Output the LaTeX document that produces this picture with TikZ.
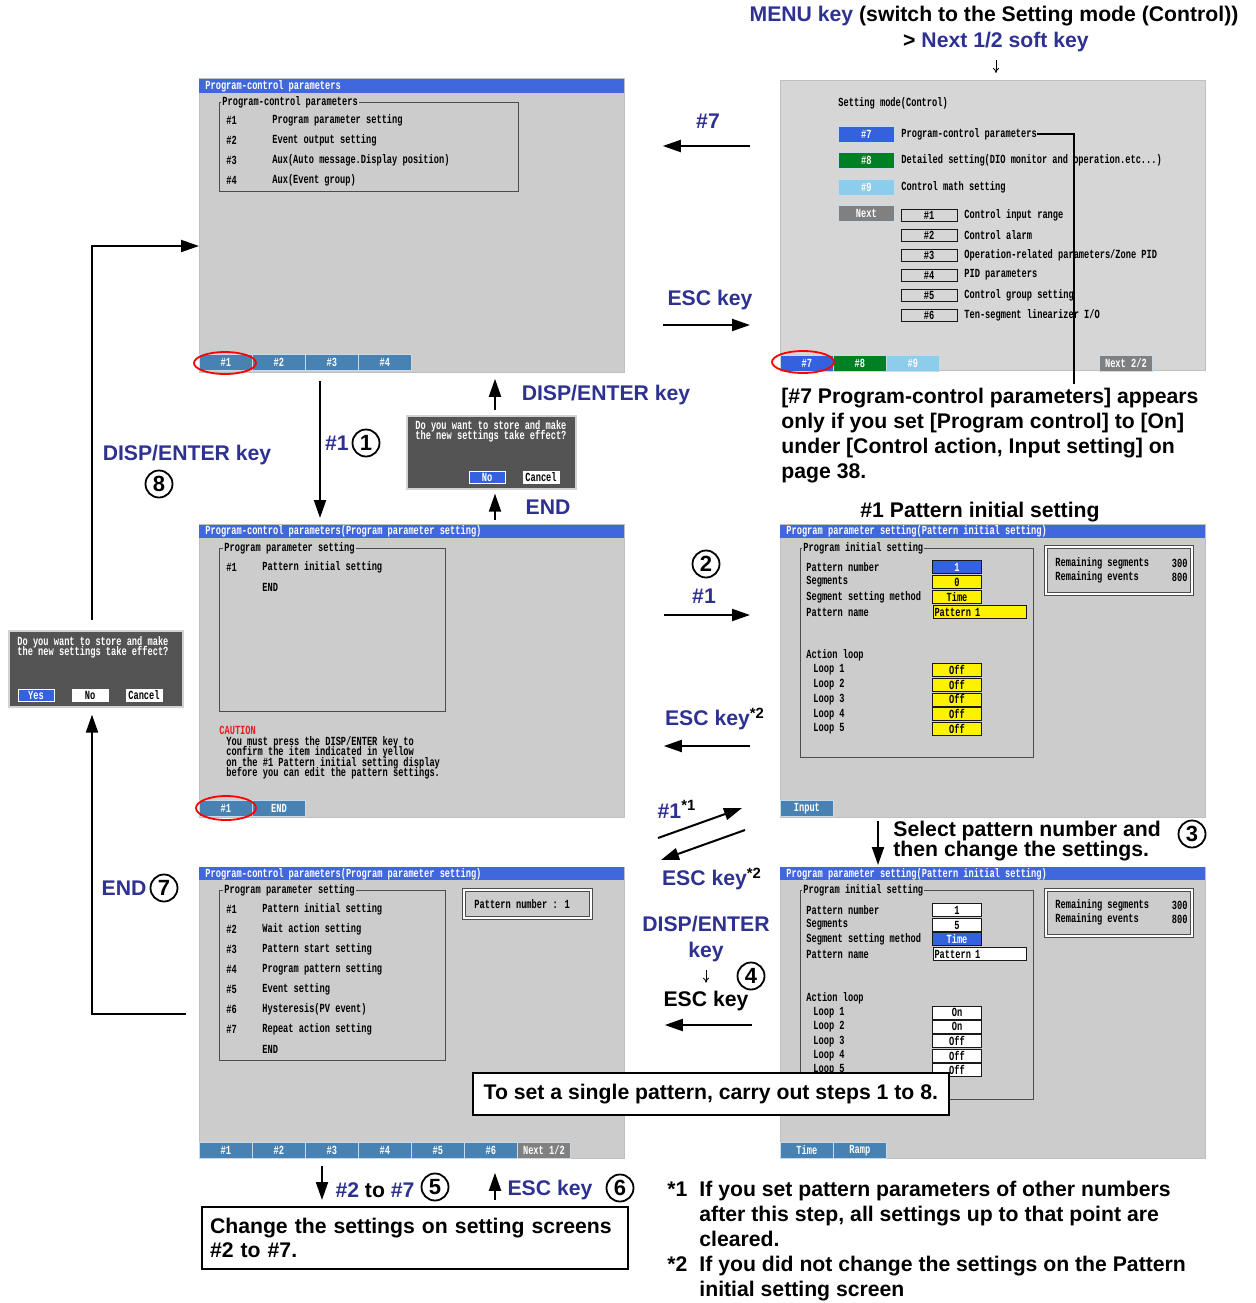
\documentclass[tikz,border=0pt]{standalone}
\usepackage{fontspec}
\setmainfont{Liberation Sans}
\newfontfamily\scrfont[FakeStretch=0.7]{Liberation Mono}
\usepackage{xcolor}
\usetikzlibrary{positioning,arrows.meta}

\definecolor{keyblue}{RGB}{46,49,146}
\definecolor{scrgray}{RGB}{204,204,204}
\definecolor{menugray}{RGB}{214,214,214}
\definecolor{titleblue}{RGB}{64,104,220}
\definecolor{softblue}{RGB}{72,130,178}
\definecolor{selblue}{RGB}{52,98,222}
\definecolor{okgreen}{RGB}{0,128,36}
\definecolor{skyblue}{RGB}{140,205,235}
\definecolor{nextgray}{RGB}{128,128,128}
\definecolor{dlggray}{RGB}{84,84,84}
\definecolor{cautred}{RGB}{230,30,30}

\newcommand{\scrsize}{\scrfont\bfseries\fontsize{6.2}{6.5}\selectfont}
\newcommand{\scrtight}{\scrfont\bfseries\fontsize{6.2}{5.2}\selectfont\lineskiplimit=-10pt}

\begin{document}
\begin{tikzpicture}[x=0.5pt, y=-0.5pt,
    screen/.style={rectangle, draw=gray!50, fill=scrgray, anchor=north west, minimum width=212.5pt, inner sep=0},
    scr/.style={anchor=west, inner sep=0, font=\scrsize},
    soft/.style={rectangle, draw=white!70!softblue, fill=softblue, text=white, anchor=north west, minimum width=26.5pt, minimum height=8pt, inner sep=0, font=\scrsize},
    field/.style={rectangle, draw=gray!20!black, fill=white, minimum width=24.5pt, minimum height=6.5pt, inner sep=0, font=\scrsize},
    frame/.style={draw=gray!60!black, line width=0.4pt},
    legend/.style={scr, fill=scrgray, inner xsep=0.5pt},
    dlg/.style={rectangle, draw=gray!35, line width=0.8pt, fill=dlggray, anchor=north west, inner sep=0},
    btn/.style={rectangle, draw=white, fill=white, minimum width=18pt, minimum height=6pt, inner sep=0, font=\scrsize},
    key/.style={text=keyblue, inner sep=1pt, font=\bfseries\fontsize{10.6}{12}\selectfont},
    note/.style={inner sep=0, align=left, font=\bfseries\fontsize{10.6}{12.5}\selectfont},
    num/.style={circle, draw, line width=0.9pt, minimum size=13.5pt, inner sep=0, font=\bfseries\fontsize{11}{11}\selectfont},
    arr/.style={line width=1pt, -{Triangle[length=9pt, width=6pt]}},
    small/.style={line width=0.4pt, -{To[length=2.5pt, width=3pt]}},
    ring/.style={draw=red, line width=0.9pt}]

    \useasboundingbox (0,0) rectangle (1255,1303);

    % Screens
    \node[screen, minimum height=147pt] (s1) at (199,78) {};
    \node[screen, fill=menugray, minimum height=145pt] (s2) at (780,80) {};
    \node[screen, minimum height=146.5pt] (s3) at (199,524) {};
    \node[screen, minimum height=146.5pt] (s4) at (780,524) {};
    \node[screen, minimum height=145.5pt] (s5) at (199,867) {};
    \node[screen, minimum height=145.5pt] (s6) at (780,867) {};

    % Program-control parameters
    \fill[titleblue] (199,79) rectangle (624,93);
    \node[scr, text=white] at (205,86) {Program-control parameters};
    \draw[frame] (219,102) rectangle (518,191);
    \node[legend] at (221,102) {Program-control parameters};
    \foreach \txt [count=\i] in {Program parameter setting, Event output setting,
        Aux(Auto message.Display position), Aux(Event group)} {
      \node[scr] at (226,100+20*\i) {\#\i};
      \node[scr] at (272,100+20*\i) {\txt};
    }
    \foreach \txt [count=\i from 0] in {\#1,\#2,\#3,\#4}
      \node[soft] at (199+53*\i,354) {\txt};
    \draw[ring] (225,363) ellipse [x radius=15.5pt, y radius=5.5pt];

    % Setting mode (Control)
    \node[scr] at (838,103) {Setting mode(Control)};
    \node[soft, fill=selblue, minimum width=28pt] (m7) at (838,126) {\#7};
    \node[soft, fill=okgreen, minimum width=28pt] (m8) at (838,152) {\#8};
    \node[soft, fill=skyblue, minimum width=28pt] (m9) at (838,179) {\#9};
    \node[soft, fill=nextgray, minimum width=28pt] (mn) at (838,205) {Next};
    \node[scr] (t7) at (901,134) {Program-control parameters};
    \node[scr] at (901,160) {Detailed setting(DIO monitor and operation.etc...)};
    \node[scr] at (901,187) {Control math setting};
    \foreach \txt [count=\i] in {Control input range, Control alarm,
        Operation-related parameters/Zone PID, PID parameters,
        Control group setting, Ten-segment linearizer I/O} {
      \node[field, fill=none, minimum width=28pt, minimum height=6pt] at (929,195+20*\i) {\#\i};
      \node[scr] at (964,195+20*\i) {\txt};
    }
    \node[soft, fill=selblue] at (780,355) {\#7};
    \node[soft, fill=okgreen] at (833,355) {\#8};
    \node[soft, fill=skyblue] at (886,355) {\#9};
    \node[soft, fill=nextgray] at (1099,355) {Next 2/2};
    \draw[ring] (803,362) ellipse [x radius=15.5pt, y radius=5.5pt];

    % Program parameter setting (before #1)
    \fill[titleblue] (199,525) rectangle (624,538);
    \node[scr, text=white] at (205,531) {Program-control parameters(Program parameter setting)};
    \draw[frame] (219,548) rectangle (445,711);
    \node[legend] at (223,548) {Program parameter setting};
    \node[scr] at (226,567) {\#1};
    \node[scr] at (262,567) {Pattern initial setting};
    \node[scr] at (262,587) {END};
    \node[scr, text=cautred] at (219,730) {CAUTION};
    \node[scr, anchor=north west, align=left, font=\scrtight] at (226,736)
      {You must press the DISP/ENTER key to\\confirm the item indicated in yellow\\on the \#1 Pattern initial setting display\\before you can edit the pattern settings.};
    \node[soft] at (199,800) {\#1};
    \node[soft] at (252,800) {END};
    \draw[ring] (226,808) ellipse [x radius=15pt, y radius=6pt];

    % Pattern initial setting (yellow)
    \fill[titleblue] (780,525) rectangle (1205,538);
    \node[scr, text=white] at (786,531) {Program parameter setting(Pattern initial setting)};
    \draw[frame] (800,548) rectangle (1033,757);
    \node[legend] at (802,548) {Program initial setting};
    \foreach \txt [count=\i from 0] in {Pattern number, Segments, Segment setting method, Pattern name}
      \node[scr] at (806,567+15*\i) {\txt};
    \node[field, fill=selblue, text=white] at (957,567) {1};
    \node[field, fill=yellow] at (957,582) {0};
    \node[field, fill=yellow] at (957,597) {Time};
    \node[field, fill=yellow, minimum width=46.5pt, text width=45pt, align=left] at (979.5,612) {Pattern 1};
    \node[scr] at (806,655) {Action loop};
    \foreach \i in {1,...,5} {
      \node[scr] at (813,655+14.8*\i) {Loop \i};
      \node[field, fill=yellow] at (957,655+14.8*\i) {Off};
    }
    \draw[frame, double, double distance=1.2pt] (1046,547) rectangle (1192,594);
    \node[scr] at (1055,563) {Remaining segments};
    \node[scr, anchor=east] at (1188,563) {300};
    \node[scr] at (1055,577) {Remaining events};
    \node[scr, anchor=east] at (1188,577) {800};
    \node[soft] at (780,800) {Input};

    % Program parameter setting (all items)
    \fill[titleblue] (199,867) rectangle (624,880);
    \node[scr, text=white] at (205,874) {Program-control parameters(Program parameter setting)};
    \draw[frame] (219,890) rectangle (445,1060);
    \node[legend] at (223,890) {Program parameter setting};
    \foreach \txt [count=\i] in {Pattern initial setting, Wait action setting,
        Pattern start setting, Program pattern setting, Event setting,
        Hysteresis(PV event), Repeat action setting} {
      \node[scr] at (226,889+20*\i) {\#\i};
      \node[scr] at (262,889+20*\i) {\txt};
    }
    \node[scr] at (262,1049) {END};
    \draw[frame, double, double distance=1.2pt] (464,890) rectangle (591,918);
    \node[scr] at (474,904) {Pattern number : 1};
    \foreach \txt [count=\i from 0] in {\#1,\#2,\#3,\#4,\#5,\#6}
      \node[soft] at (199+53*\i,1142) {\txt};
    \node[soft, fill=nextgray] at (517,1142) {Next 1/2};

    % Pattern initial setting (confirmed)
    \fill[titleblue] (780,867) rectangle (1205,880);
    \node[scr, text=white] at (786,874) {Program parameter setting(Pattern initial setting)};
    \draw[frame] (800,890) rectangle (1033,1099);
    \node[legend] at (802,890) {Program initial setting};
    \foreach \txt [count=\i from 0] in {Pattern number, Segments, Segment setting method, Pattern name}
      \node[scr] at (806,910+14.7*\i) {\txt};
    \node[field] at (957,910) {1};
    \node[field] at (957,925) {5};
    \node[field, fill=selblue, text=white] at (957,939) {Time};
    \node[field, minimum width=46.5pt, text width=45pt, align=left] at (979.5,954) {Pattern 1};
    \node[scr] at (806,998) {Action loop};
    \foreach \v [count=\i] in {On,On,Off,Off,Off} {
      \node[scr] at (813,998+14.4*\i) {Loop \i};
      \node[field] at (957,998+14.4*\i) {\v};
    }
    \draw[frame, double, double distance=1.2pt] (1046,890) rectangle (1192,936);
    \node[scr] at (1055,905) {Remaining segments};
    \node[scr, anchor=east] at (1188,905) {300};
    \node[scr] at (1055,919) {Remaining events};
    \node[scr, anchor=east] at (1188,919) {800};
    \node[soft] at (780,1142) {Time};
    \node[soft] at (833,1142) {Ramp};

    % Dialogs
    \node[dlg, minimum width=84.5pt, minimum height=36.5pt] (d1) at (406,415) {};
    \node[scr, text=white, anchor=north west, align=left, font=\scrtight] at (415,420)
      {Do you want to store and make\\the new settings take effect?};
    \node[btn, fill=selblue, text=white] at (487,477) {No};
    \node[btn] at (541,477) {Cancel};
    \node[dlg, minimum width=87pt, minimum height=38pt] (d2) at (8,630) {};
    \node[scr, text=white, anchor=north west, align=left, font=\scrtight] at (17,636)
      {Do you want to store and make\\the new settings take effect?};
    \node[btn, fill=selblue, text=white] at (36,695) {Yes};
    \node[btn] at (90,695) {No};
    \node[btn] at (144,695) {Cancel};

    % Labels
    \node[note, align=center] (menu) at (994,16) {\textcolor{keyblue}{MENU key} (switch to the Setting mode (Control))};
    \node[note, align=center] (next) at (996,42) {> \textcolor{keyblue}{Next 1/2 soft key}};
    \node[note, anchor=west] (cond) at (781,436) {[\#7 Program-control parameters] appears\\only if you set [Program control] to [On]\\under [Control action, Input setting] on\\page 38.};
    \node[key] (k7) at (708,121) {\#7};
    \node[key] (kesc1) at (710,300) {ESC key};
    \node[key] (kde1) at (606,395) {DISP/ENTER key};
    \node[key] (kend1) at (548,507) {END};
    \node[key] (kh1) at (337,443) {\#1};
    \node[num] (n1) at (366,443) {1};
    \node[note] (pis) at (980,512) {\#1 Pattern initial setting};
    \node[num] (n2) at (706,564) {2};
    \node[key] (kh2) at (704,596) {\#1};
    \node[key] (kesc2) at (715,719) {ESC key\textsuperscript{\color{black}*2}};
    \node[key] (kh3) at (677,809) {\#1\textsuperscript{\color{black}*1}};
    \node[key] (kesc3) at (712,879) {ESC key\textsuperscript{\color{black}*2}};
    \node[key, align=center, font=\bfseries\fontsize{10.6}{13}\selectfont] (kde2) at (706,939) {DISP/ENTER\\key};
    \node[num] (n4) at (751,976) {4};
    \node[note] (kesc4) at (706,1001) {ESC key};
    \node[note, font=\bfseries\fontsize{10.6}{10}\selectfont] (sel) at (893,841) [anchor=west] {Select pattern number and\\then change the settings.};
    \node[num] (n3) at (1192,834) {3};
    \node[key] (kde3) at (187,455) {DISP/ENTER key};
    \node[num] (n8) at (159,484) {8};
    \node[key] (kend2) at (124,888) {END};
    \node[num] (n7) at (164,888) {7};
    \node[key] (kh4) at (375,1190) {\#2 \textcolor{black}{to} \#7};
    \node[num] (n5) at (435,1187) {5};
    \node[key] (kesc5) at (550,1190) {ESC key};
    \node[num] (n6) at (620,1188) {6};
    \node[draw, line width=1pt, anchor=north west, minimum width=213pt, minimum height=31pt, text width=205pt, align=left,
      inner xsep=4pt, font=\bfseries\fontsize{10.6}{12}\selectfont] (chg) at (201,1206)
      {Change the settings on setting screens\\\#2 to \#7.};
    \node[draw, line width=0.8pt, fill=white, anchor=north west, minimum width=238pt, minimum height=21pt,
      font=\bfseries\fontsize{10.6}{12}\selectfont] (single) at (472,1072) {To set a single pattern, carry out steps 1 to 8.};
    \node[note, anchor=west] (fn) at (667,1241)
      {\begin{tabular}{@{}l@{\hspace{6pt}}l@{}}
       {*1} & If you set pattern parameters of other numbers\\
            & after this step, all settings up to that point are\\
            & cleared.\\
       {*2} & If you did not change the settings on the Pattern\\
            & initial setting screen
       \end{tabular}};

    % Connectors
    \draw[small, shorten <=4pt, shorten >=3.5pt] (next.south) -- (next.south |- s2.north);
    \draw[line width=0.6pt, shorten >=2pt] (t7.east) -| (cond.north -| 1074,0);
    \draw[arr, shorten <=15pt, shorten >=19pt] (s2.west |- 0,146) -- (s1.east |- 0,146);
    \draw[arr, shorten <=19pt, shorten >=15pt] (s1.east |- 0,325) -- (s2.west |- 0,325);
    \draw[arr, shorten <=4pt, shorten >=3pt] (s1.south -| 320,0) -- (s3.north -| 320,0);
    \draw[arr, shorten <=2.5pt, shorten >=3pt] (d1.north -| 495,0) -- (s1.south -| 495,0);
    \draw[arr, shorten <=2pt, shorten >=2pt] (s3.north -| 495,0) -- (d1.south -| 495,0);
    \draw[arr, shorten <=19.5pt, shorten >=15pt] (s3.east |- 0,615) -- (s4.west |- 0,615);
    \draw[arr, shorten <=15pt, shorten >=19.5pt] (s4.west |- 0,746) -- (s3.east |- 0,746);
    \coordinate (u1) at (658,838);
    \coordinate (u2) at (742,808);
    \coordinate (v1) at (745,830);
    \coordinate (v2) at (661,860);
    \draw[arr] (u1) -- (u2);
    \draw[arr] (v1) -- (v2);
    \draw[small, shorten <=3pt, shorten >=4pt] (kde2.south) -- (kesc4.north);
    \draw[arr, shorten <=14pt, shorten >=20pt] (s6.west |- 0,1025) -- (s5.east |- 0,1025);
    \draw[arr, shorten <=1.5pt, shorten >=1pt] (s4.south -| 878,0) -- (s6.north -| 878,0);
    \draw[arr, shorten <=3.5pt, shorten >=3pt] (s5.south -| 322,0) -- (chg.north -| 322,0);
    \draw[arr, shorten <=3pt, shorten >=7pt] (chg.north -| 495,0) -- (s5.south -| 495,0);
    \draw[arr, shorten <=5pt] (d2.north -| 92,0) |- (s1.west |- 0,246);
    \draw[arr, shorten <=6.5pt, shorten >=3.5pt] (s5.west |- 0,1014) -| (d2.south -| 92,0);
\end{tikzpicture}
\end{document}
